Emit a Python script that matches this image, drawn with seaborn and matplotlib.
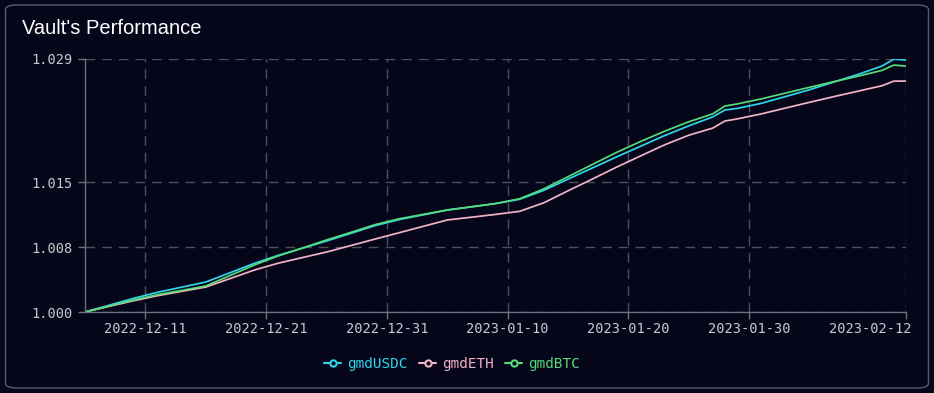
import numpy as np
import pandas as pd
import matplotlib
matplotlib.use("Agg")
import matplotlib.pyplot as plt
import matplotlib.transforms as mtransforms
from matplotlib.patches import FancyBboxPatch
from matplotlib.lines import Line2D
import seaborn as sns

# ---- data ----
dates = ["2022-12-06", "2022-12-08", "2022-12-10", "2022-12-12", "2022-12-14", "2022-12-16",
         "2022-12-18", "2022-12-20", "2022-12-22", "2022-12-24", "2022-12-26", "2022-12-28",
         "2022-12-30", "2023-01-01", "2023-01-03", "2023-01-05", "2023-01-07", "2023-01-09",
         "2023-01-11", "2023-01-13", "2023-01-15", "2023-01-17", "2023-01-19", "2023-01-21",
         "2023-01-23", "2023-01-25", "2023-01-27", "2023-01-28", "2023-01-29", "2023-01-31",
         "2023-02-02", "2023-02-04", "2023-02-06", "2023-02-08", "2023-02-10", "2023-02-11",
         "2023-02-12"]
gmdUSDC = [1.00000, 1.00078, 1.00157, 1.00227, 1.00286, 1.00346, 1.00452, 1.00560, 1.00654,
           1.00736, 1.00819, 1.00907, 1.00996, 1.01066, 1.01121, 1.01177, 1.01214, 1.01251,
           1.01301, 1.01404, 1.01533, 1.01661, 1.01788, 1.01912, 1.02036, 1.02148, 1.02252,
           1.02331, 1.02349, 1.02408, 1.02486, 1.02565, 1.02653, 1.02741, 1.02838, 1.02919,
           1.02908]
gmdETH = [1.00000, 1.00065, 1.00129, 1.00188, 1.00238, 1.00288, 1.00385, 1.00483, 1.00563,
          1.00628, 1.00692, 1.00766, 1.00841, 1.00914, 1.00988, 1.01062, 1.01094, 1.01126,
          1.01162, 1.01260, 1.01398, 1.01533, 1.01670, 1.01800, 1.01929, 1.02040, 1.02123,
          1.02204, 1.02228, 1.02286, 1.02353, 1.02420, 1.02485, 1.02548, 1.02611, 1.02665,
          1.02665]
gmdBTC = [1.00000, 1.00069, 1.00138, 1.00200, 1.00249, 1.00300, 1.00420, 1.00541, 1.00647,
          1.00738, 1.00831, 1.00918, 1.01007, 1.01075, 1.01126, 1.01177, 1.01214, 1.01251,
          1.01307, 1.01421, 1.01561, 1.01701, 1.01840, 1.01967, 1.02086, 1.02195, 1.02287,
          1.02377, 1.02401, 1.02459, 1.02526, 1.02593, 1.02658, 1.02721, 1.02788, 1.02850,
          1.02838]
series_names = ["gmdUSDC", "gmdETH", "gmdBTC"]
y_ticks = [1.0, 1.0075, 1.015, 1.0292]
y_tick_labels = ["1.000", "1.008", "1.015", "1.029"]
x_ticks = ["2022-12-11", "2022-12-21", "2022-12-31", "2023-01-10", "2023-01-20",
           "2023-01-30", "2023-02-12"]
title = "Vault's Performance"

# ---- styling ----
BG = "#05061a"
colors = {"gmdUSDC": "#2fd6ea", "gmdETH": "#f2b3c4", "gmdBTC": "#55dc78"}
mono = ["DejaVu Sans Mono"]

df = pd.DataFrame({"date": pd.to_datetime(dates), "gmdUSDC": gmdUSDC,
                   "gmdETH": gmdETH, "gmdBTC": gmdBTC})
long = df.melt(id_vars="date", var_name="vault", value_name="value")

sns.set_theme(style="dark")
fig = plt.figure(figsize=(9.34, 3.93), dpi=100, facecolor=BG)

# card border
card = FancyBboxPatch((5.5 / 934, 5 / 393), 923 / 934, 383 / 393,
                      boxstyle="round,pad=0,rounding_size=0.012",
                      transform=fig.transFigure, facecolor="none", edgecolor="#5a5c68",
                      linewidth=1.0, zorder=-5)
fig.patches.append(card)

ax = fig.add_axes([85 / 934, 1 - 312 / 393, (906 - 85) / 934, (312 - 59) / 393])
ax.set_facecolor(BG)

sns.lineplot(data=long, x="date", y="value", hue="vault", hue_order=series_names,
             palette=colors, linewidth=1.25, ax=ax, legend=False)

ax.set_xlim(pd.Timestamp(dates[0]), pd.Timestamp(dates[-1]))
ax.set_ylim(y_ticks[0], y_ticks[-1])
ax.set_yticks(y_ticks)
ax.set_yticklabels(y_tick_labels)
ax.set_xticks(pd.to_datetime(x_ticks))
ax.set_xticklabels(x_ticks)
ax.set_xlabel("")
ax.set_ylabel("")

ax.grid(True, color="#4e505c", linestyle=(0, (7, 5)), linewidth=1.0)
for s in ["top", "right"]:
    ax.spines[s].set_visible(False)
for s in ["left", "bottom"]:
    ax.spines[s].set_visible(True)
    ax.spines[s].set_color("#6e707a")
    ax.spines[s].set_linewidth(1.0)
ax.tick_params(axis="both", colors="#6e707a", length=5, width=1.0,
               labelcolor="#c9c9cc", labelsize=9.8, direction="out",
               bottom=True, left=True)
ax.tick_params(axis="x", pad=2.5)
ax.tick_params(axis="y", pad=4)
for lab in ax.get_xticklabels() + ax.get_yticklabels():
    lab.set_fontfamily(mono)

# last date label sits right-aligned at the axis end
last = ax.get_xticklabels()[-1]
last.set_horizontalalignment("right")
last.set_transform(last.get_transform() + mtransforms.ScaledTranslation(6 / 100, 0, fig.dpi_scale_trans))

fig.text(22 / 934, 1 - 29 / 393, title, color="white", fontsize=14.5,
         fontfamily=["Liberation Sans", "DejaVu Sans"], va="center", ha="left")

handles = [Line2D([0], [0], color=colors[n], marker="o", markersize=4.5,
                  markerfacecolor=BG, markeredgewidth=1.5, linewidth=1.5)
           for n in series_names]
leg = fig.legend(handles, series_names, loc="center", bbox_to_anchor=(452 / 934, 1 - 364 / 393),
                 ncol=3, frameon=False, handlelength=1.2, handletextpad=0.4,
                 columnspacing=0.8, prop={"family": "DejaVu Sans Mono", "size": 10.3})
for t, n in zip(leg.get_texts(), series_names):
    t.set_color(colors[n])

fig.savefig("out.png", dpi=100, facecolor=BG)
